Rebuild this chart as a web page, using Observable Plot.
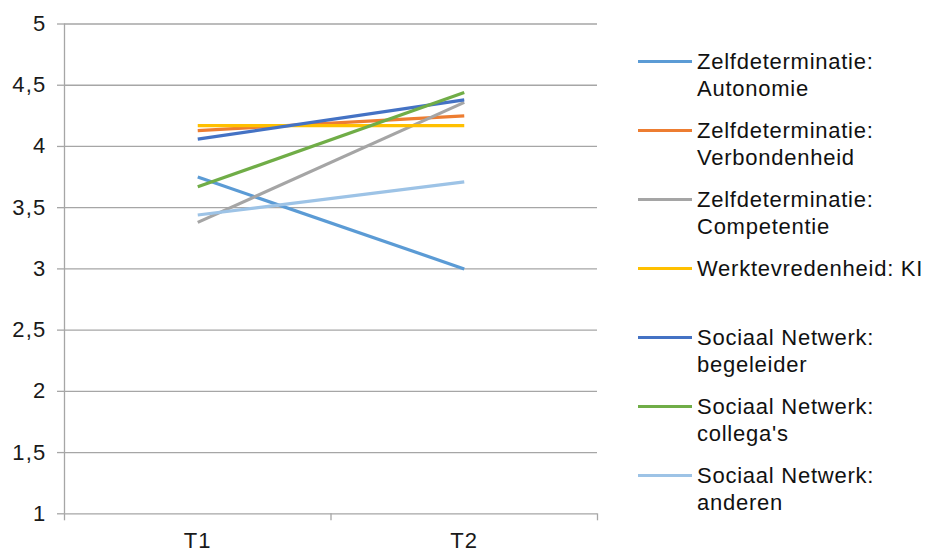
<!DOCTYPE html>
<html>
<head>
<meta charset="utf-8">
<script src="https://cdn.jsdelivr.net/npm/d3@7"></script>
<script src="https://cdn.jsdelivr.net/npm/@observablehq/plot@0.6"></script>
<style>
  html, body { margin: 0; padding: 0; background: #fff; }
  #wrap { position: relative; width: 928px; height: 554px; font-family: "Liberation Sans", Arial, sans-serif; }
  #wrap svg text { letter-spacing: 1.2px; }
  #legend { position: absolute; left: 638px; top: 48px; }
  .item { position: relative; height: 69px; }
  .swatch { position: absolute; left: 0; top: 12px; width: 54px; height: 3px; }
  .label { position: absolute; left: 59px; top: 0; font-size: 22px; line-height: 27px; color: #111; white-space: nowrap; letter-spacing: 0.75px; }
</style>
</head>
<body>
<div id="wrap"><div id="legend"></div></div>
<script>
const periods = ["T1", "T2"];
const seriesNames = [
  "Zelfdeterminatie: Autonomie",
  "Zelfdeterminatie: Verbondenheid",
  "Zelfdeterminatie: Competentie",
  "Werktevredenheid: KI",
  "Sociaal Netwerk: begeleider",
  "Sociaal Netwerk: collega's",
  "Sociaal Netwerk: anderen"
];
const legendLines = [
  ["Zelfdeterminatie:", "Autonomie"],
  ["Zelfdeterminatie:", "Verbondenheid"],
  ["Zelfdeterminatie:", "Competentie"],
  ["Werktevredenheid: KI"],
  ["Sociaal Netwerk:", "begeleider"],
  ["Sociaal Netwerk:", "collega's"],
  ["Sociaal Netwerk:", "anderen"]
];
const seriesColors = ["#5B9BD5", "#ED7D31", "#A5A5A5", "#FFC000", "#4472C4", "#70AD47", "#9DC3E6"];
const valuesT1 = [3.75, 4.13, 3.38, 4.17, 4.06, 3.67, 3.44];
const valuesT2 = [3.00, 4.25, 4.36, 4.17, 4.38, 4.44, 3.71];
const yTicks = [1, 1.5, 2, 2.5, 3, 3.5, 4, 4.5, 5];

const data = [];
seriesNames.forEach((s, i) => {
  data.push({series: s, x: 0.5, y: valuesT1[i]});
  data.push({series: s, x: 1.5, y: valuesT2[i]});
});

const fmt = d => String(d).replace(".", ",");
const gridColor = "#a6a6a6";

const chart = Plot.plot({
  width: 928,
  height: 554,
  marginLeft: 64,
  marginRight: 331,
  marginTop: 23.5,
  marginBottom: 40.7,
  style: {fontFamily: "'Liberation Sans', Arial, sans-serif", fontSize: "22px", color: "#1a1a1a", background: "#fff"},
  x: {domain: [0, 2]},
  y: {domain: [1, 5]},
  color: {domain: seriesNames, range: seriesColors},
  marks: [
    Plot.ruleY(yTicks, {stroke: gridColor, strokeWidth: 1.3, strokeOpacity: 1}),
    Plot.ruleX([0], {stroke: gridColor, strokeWidth: 1.3}),
    Plot.axisY({ticks: yTicks, tickFormat: fmt, tickSize: 7, tickPadding: 11, stroke: gridColor, strokeWidth: 1.3, strokeOpacity: 1, label: null, fontSize: 22}),
    Plot.axisX({ticks: [0, 1, 2], tickSize: 7, tickFormat: () => "", stroke: gridColor, strokeWidth: 1.3, strokeOpacity: 1, label: null}),
    Plot.axisX({ticks: [0.5, 1.5], tickSize: 0, tickPadding: 19, tickFormat: d => periods[Math.floor(d)], label: null, fontSize: 22}),
    Plot.line(data, {x: "x", y: "y", z: "series", stroke: "series", strokeWidth: 3.2, strokeLinecap: "butt"})
  ]
});

const wrap = document.getElementById("wrap");
wrap.insertBefore(chart, wrap.firstChild);

const legend = document.getElementById("legend");
seriesNames.forEach((s, i) => {
  const item = document.createElement("div");
  item.className = "item";
  const sw = document.createElement("div");
  sw.className = "swatch";
  sw.style.background = seriesColors[i];
  const lab = document.createElement("div");
  lab.className = "label";
  lab.innerHTML = legendLines[i].join("<br>");
  item.appendChild(sw);
  item.appendChild(lab);
  legend.appendChild(item);
});
</script>
</body>
</html>
